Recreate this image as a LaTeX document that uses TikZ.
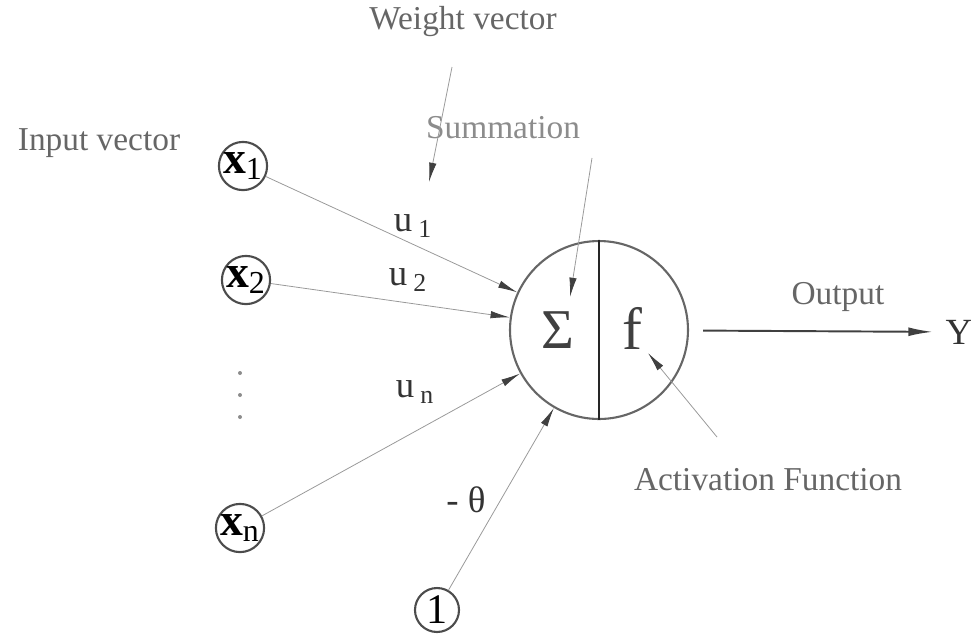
\documentclass[tikz,border=0pt]{standalone}
\usepackage{fontspec}
\setmainfont{Liberation Serif}
\usetikzlibrary{arrows.meta}

\begin{document}
\begin{tikzpicture}[x=0.02cm,y=-0.02cm,
  inp/.style={circle,draw=black!70,line width=1.2pt,minimum size=0.88cm,inner sep=0pt,font=\fontsize{26}{26}\selectfont},
  neuron/.style={circle,draw=black!60,line width=1.2pt,minimum size=3.56cm,inner sep=0pt},
  wire/.style={draw=black!40,line width=.45pt,-{Latex[length=11pt,width=4.2pt,color=black!75]}},
  caption/.style={text=black!60,font=\fontsize{19}{19}\selectfont},
  wlabel/.style={text=black!80,font=\fontsize{21}{21}\selectfont}]
\useasboundingbox (0,0) rectangle (971,637);
% inputs
\node[inp] (x1) at (243,166) {\textbf{x}\textsubscript{1}};
\node[inp] (x2) at (246,280) {\textbf{x}\textsubscript{2}};
\node[inp] (xn) at (240,528) {\textbf{x}\textsubscript{n}};
\node[inp,font=\fontsize{24}{24}\selectfont] (one) at (437,610) {1};
\foreach \y in {373,395,417}
  \fill[black!45] (240,\y) circle (2);
% neuron
\node[neuron] (sum) at (599,330) {};
\draw[black!85,line width=.6pt] (sum.north) -- (sum.south);
\node[font=\fontsize{32}{32}\selectfont,text=black!75] (sigma) at (558,330) {Σ};
\node[font=\fontsize{34}{34}\selectfont,text=black!75] (f) at (632,328) {f};
% captions
\node[caption] (wvec) at (463,22) {Weight vector};
\node[caption] (ivec) at (99,143) {Input vector};
\node[caption,text=black!45] (summ) at (503,128) {Summation};
\node[caption] (outp) at (838,297) {Output};
\node[caption] (actf) at (768,480) {Activation Function};
\node[font=\fontsize{21}{21}\selectfont,text=black!80,inner sep=0pt] (Y) at (959,332) {Y};
% weights
\node[wlabel] (u1) at (413,226) {u\,\textsubscript{1}};
\node[wlabel] (u2) at (408,280) {u\,\textsubscript{2}};
\node[wlabel] (un) at (415,392) {u\,\textsubscript{n}};
\node[wlabel] (th) at (466,500) {- θ};
% connectors
\foreach \src in {x1,x2,xn,one}
  \draw[wire] (\src) -- (sum);
\coordinate (wtop) at (452,67);
\coordinate (wtip) at (429,182);
\draw[wire] (wtop) -- (wtip);
\coordinate (stop) at (592,158);
\coordinate (stip) at (570,297);
\draw[wire] (stop) -- (stip);
\coordinate (abot) at (717,437);
\coordinate (atip) at (648,353);
\draw[wire] (abot) -- (atip);
\draw[black!75,line width=1.1pt,shorten <=8pt,shorten >=7pt,-{Latex[length=14pt,width=5pt]}] (sum) -- (Y);
\end{tikzpicture}
\end{document}
